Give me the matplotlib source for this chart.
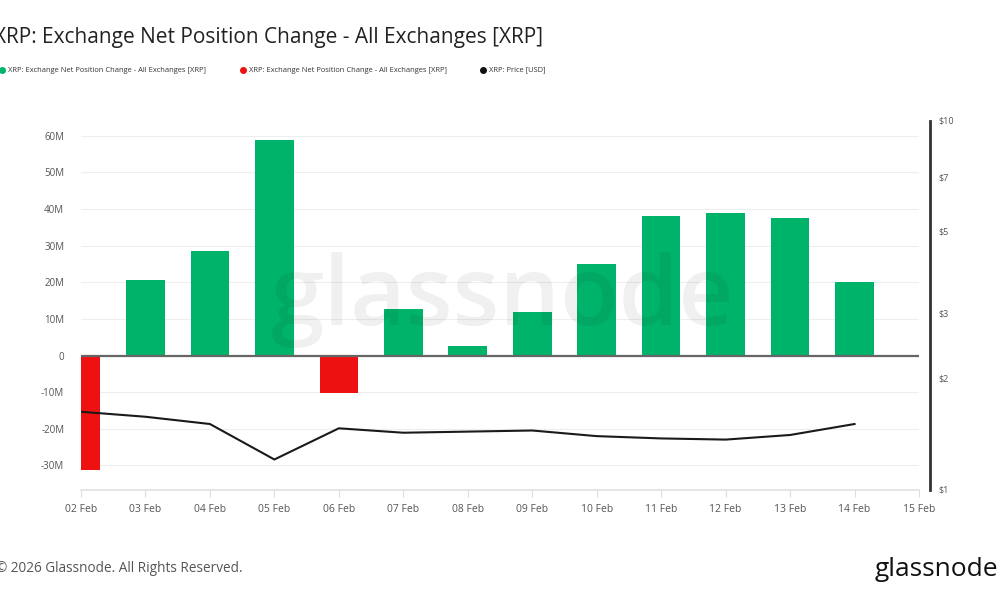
import matplotlib
matplotlib.use("Agg")
import matplotlib.pyplot as plt
import matplotlib.dates as mdates
from matplotlib.lines import Line2D
import pandas as pd
import numpy as np

plt.rcParams['font.family'] = ['Open Sans', 'DejaVu Sans']

dates = pd.date_range("2026-02-02", "2026-02-14", freq="D")
net_change_m = [-31.3, 20.6, 28.6, 58.9, -10.1, 12.7, 2.6, 11.9, 25.0, 38.2, 39.0, 37.7, 20.1]
price_usd = [1.63, 1.58, 1.51, 1.21, 1.47, 1.43, 1.44, 1.45, 1.40, 1.38, 1.37, 1.41, 1.51]
left_ticks = [-30, -20, -10, 0, 10, 20, 30, 40, 50, 60]
left_labels = ["-30M", "-20M", "-10M", "0", "10M", "20M", "30M", "40M", "50M", "60M"]
right_ticks = [1, 2, 3, 5, 7, 10]
right_labels = ["$1", "$2", "$3", "$5", "$7", "$10"]
title = "XRP: Exchange Net Position Change - All Exchanges [XRP]"
legend_labels = ["XRP: Exchange Net Position Change - All Exchanges [XRP]",
                 "XRP: Exchange Net Position Change - All Exchanges [XRP]",
                 "XRP: Price [USD]"]

GREEN = "#00b36b"
RED = "#ee1111"
TXT = "#555555"

fig = plt.figure(figsize=(10, 6), dpi=100)
ax = fig.add_axes([0.081, 0.1833, 0.838, 0.6147])

vals = np.array(net_change_m)
colors = [GREEN if v >= 0 else RED for v in vals]
ax.bar(dates, vals, width=0.6, color=colors, zorder=2)
ax.axhline(0, color="#666666", lw=1.6, zorder=3)

ax.set_ylim(-36.7, 64)
ax.set_yticks(left_ticks)
ax.set_yticklabels(left_labels)
ax.set_xlim(pd.Timestamp("2026-02-02"), pd.Timestamp("2026-02-15"))
ax.xaxis.set_major_locator(mdates.DayLocator())
ax.xaxis.set_major_formatter(mdates.DateFormatter("%d %b"))
ax.grid(axis="y", color="#eeeeee", lw=0.8, zorder=0)
for s in ["top", "right", "left"]:
    ax.spines[s].set_visible(False)
ax.spines["bottom"].set_color("#e0e0e0")
ax.spines["bottom"].set_linewidth(1.2)
ax.tick_params(axis="x", colors="#dddddd", labelcolor=TXT, labelsize=7.5, length=5, pad=5)
ax.tick_params(axis="y", length=0, labelcolor=TXT, labelsize=7, pad=12)

ax2 = ax.twinx()
ax2.plot(dates, price_usd, color="#1a1a1a", lw=1.5, zorder=4)
ax2.set_yscale("log")
ax2.set_ylim(1, 10)
ax2.set_yticks(right_ticks)
ax2.set_yticklabels(right_labels)
ax2.yaxis.set_minor_locator(matplotlib.ticker.NullLocator())
for s in ["top", "left", "bottom"]:
    ax2.spines[s].set_visible(False)
ax2.spines["right"].set_position(("outward", 8))
ax2.spines["right"].set_color("#333333")
ax2.spines["right"].set_linewidth(2)
ax2.tick_params(axis="y", length=0, labelcolor=TXT, labelsize=6.5, pad=6)
for lab in ax2.get_yticklabels():
    lab.set_verticalalignment("center")

# watermark
fig.text(0.503, 0.5, "glassnode", fontsize=69, color="#000000", alpha=0.06,
         ha="center", va="center", fontweight="semibold")

# title
fig.text(-0.006, 0.938, title, fontsize=15, color="#222222", ha="left", va="center")

# legend
leg_y = 0.883
marker_x = [0.002, 0.243, 0.483]
leg_colors = [GREEN, RED, "#111111"]
for mx, c, lab in zip(marker_x, leg_colors, legend_labels):
    fig.add_artist(Line2D([mx], [leg_y], marker="o", color=c, markersize=4,
                          transform=fig.transFigure, linestyle="none"))
    fig.text(mx + 0.006, leg_y, lab, fontsize=5.4, color="#333333", ha="left", va="center")

# footer
fig.text(-0.004, 0.053, "© 2026 Glassnode. All Rights Reserved.", fontsize=9.8,
         color="#555555", ha="left", va="center")
fig.text(0.875, 0.05, "glassnode", fontsize=19, color="#111111", ha="left", va="center")

fig.savefig("out.png", dpi=100)
